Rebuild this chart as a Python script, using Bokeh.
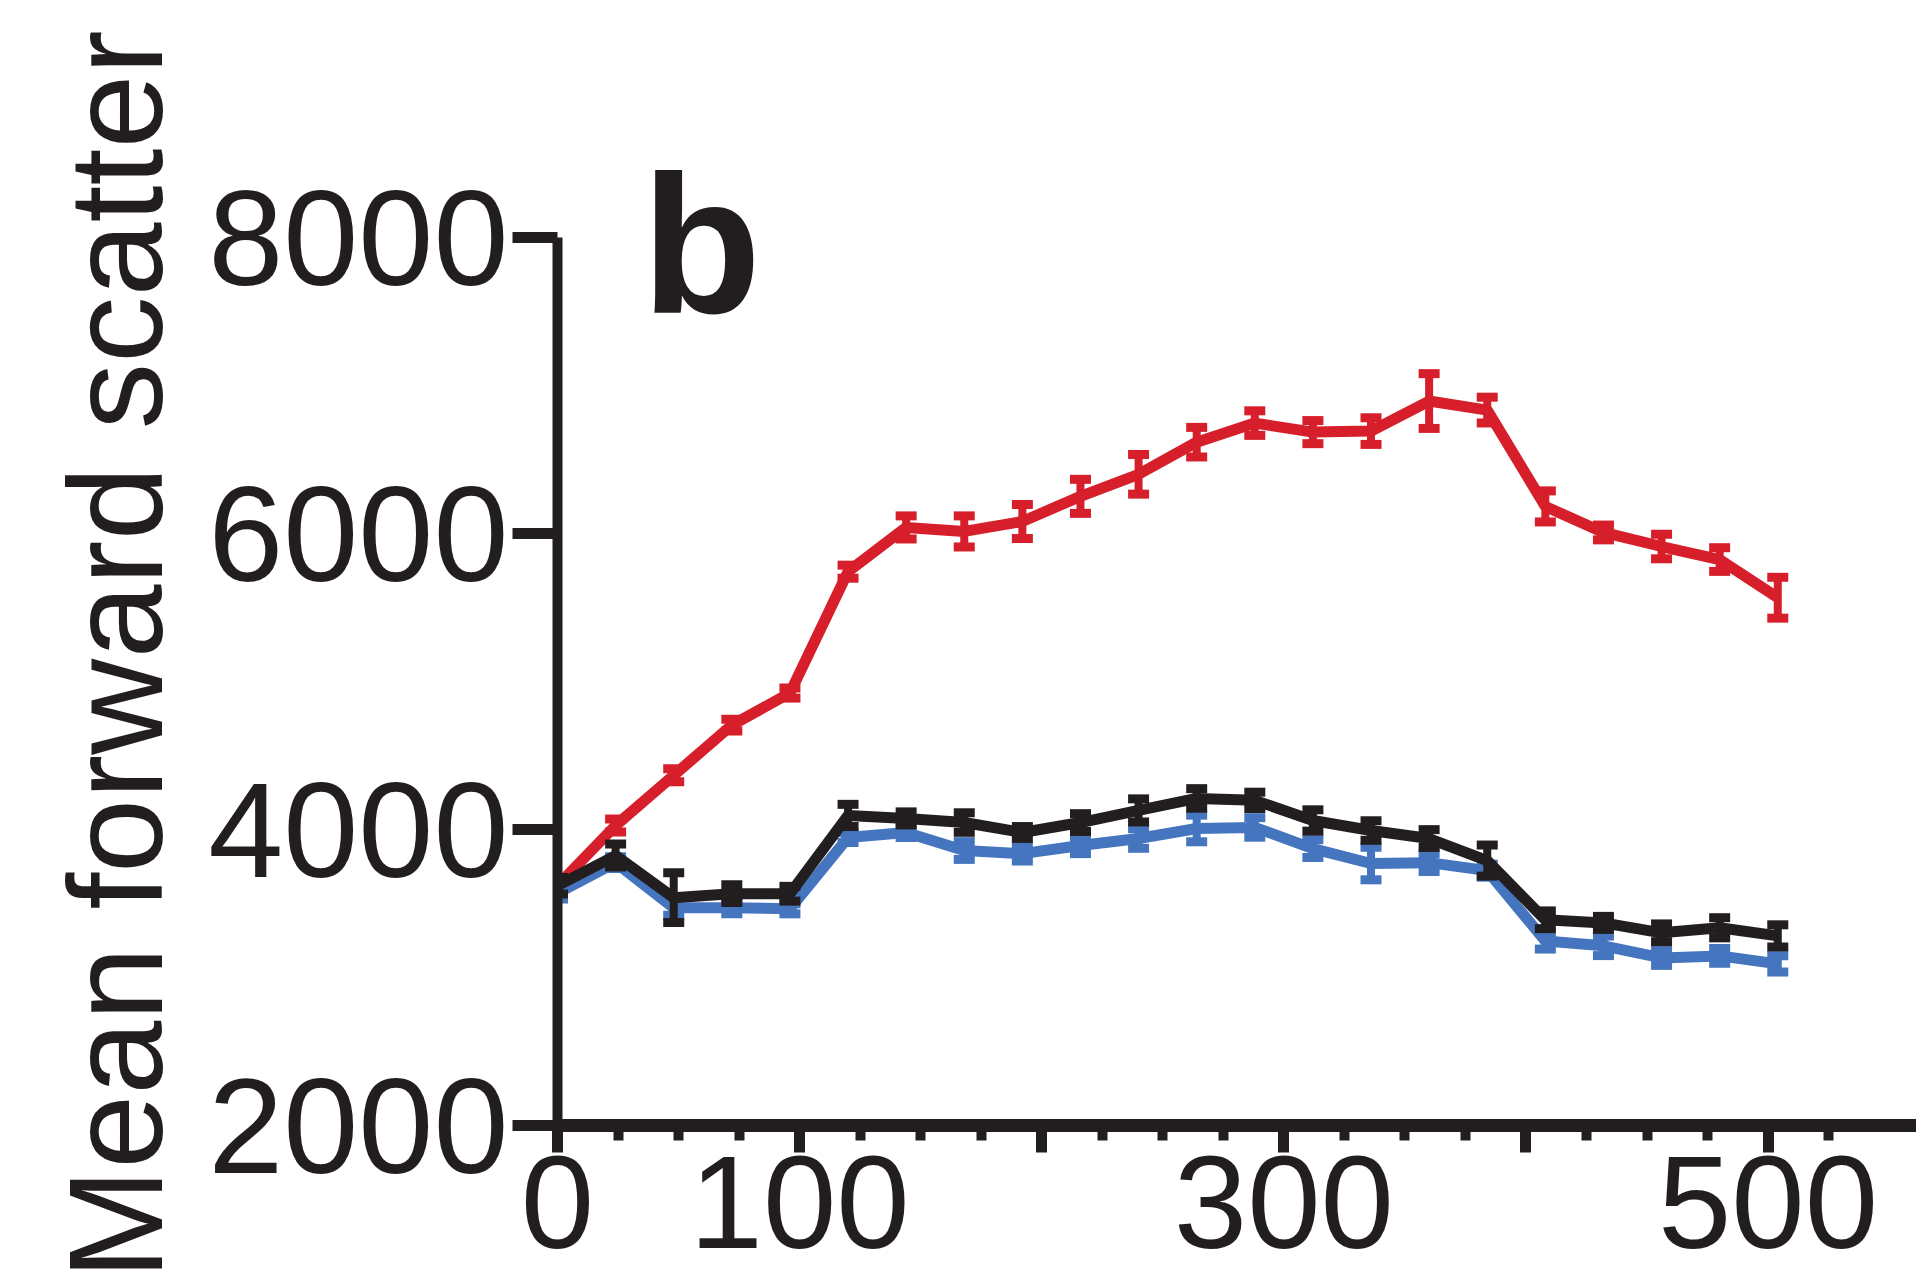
from bokeh.plotting import figure
from bokeh.models import FixedTicker, ColumnDataSource, Label, Title, Range1d
from bokeh.embed import file_html
from bokeh.resources import INLINE

# ---- data ----
hours = [0, 24, 48, 72, 96, 120, 144, 168, 192, 216, 240, 264, 288, 312, 336, 360, 384, 408, 432, 456, 480, 504]
red_mean = [3620, 4027, 4366, 4705, 4922, 5742, 6041, 6014, 6081, 6251, 6400, 6617, 6746, 6685, 6692, 6895, 6834, 6183, 6007, 5912, 5824, 5566]
red_err = [30, 44, 44, 40, 34, 44, 78, 105, 115, 115, 134, 100, 83, 78, 90, 185, 87, 105, 50, 83, 80, 138]
black_mean = [3620, 3824, 3539, 3566, 3566, 4095, 4075, 4047, 3980, 4047, 4129, 4210, 4197, 4061, 3993, 3939, 3790, 3390, 3369, 3302, 3336, 3281]
black_err = [55, 78, 168, 60, 50, 75, 44, 66, 40, 60, 78, 66, 55, 72, 66, 60, 105, 60, 44, 60, 68, 75]
blue_mean = [3570, 3776, 3471, 3471, 3464, 3946, 3980, 3858, 3837, 3892, 3939, 4007, 4014, 3871, 3770, 3776, 3722, 3247, 3214, 3132, 3146, 3092]
blue_err = [40, 40, 50, 40, 34, 34, 34, 60, 50, 55, 66, 90, 66, 60, 110, 60, 44, 55, 66, 50, 50, 55]

x_major_ticks = [0, 100, 200, 300, 400, 500]
x_minor_ticks = [25, 50, 75, 125, 150, 175, 225, 250, 275, 325, 350, 375, 425, 450, 475, 525]
x_tick_text = {0: "0", 100: "100", 200: "", 300: "300", 400: "", 500: "500"}
y_ticks = [2000, 4000, 6000, 8000]
y_label = "Mean forward scatter"
panel_label = "b"

RED = "#D71F2B"
BLUE = "#4675BF"
BLACK = "#221E1F"
FONT = "Liberation Sans"

# ---- layout geometry ----
W, H = 1916, 1279
LEFT = 557            # y-axis position
AXIS_TOP = 237        # pixel row of the top of the y axis (8000)
FRAME_TOP = 162       # frame extends above the axis so the panel letter is not clipped
AXIS_BOTTOM = 1125    # x-axis position (2000)
X_END = 561.3
y_lo, y_hi = y_ticks[0], y_ticks[-1]
px_per_y = (AXIS_BOTTOM - AXIS_TOP) / (y_hi - y_lo)
Y_END = y_hi + (AXIS_TOP - FRAME_TOP) / px_per_y

p = figure(width=W, height=H, x_range=Range1d(0, X_END), y_range=Range1d(y_lo, Y_END),
           output_backend="svg", toolbar_location=None,
           min_border_left=LEFT, min_border_right=0, min_border_top=FRAME_TOP,
           min_border_bottom=H - AXIS_BOTTOM)
p.outline_line_color = None
p.xgrid.visible = False
p.ygrid.visible = False
p.background_fill_color = "white"
p.border_fill_color = "white"

# series: red, blue, black (black on top)
for mean, err, col in [(red_mean, red_err, RED), (blue_mean, blue_err, BLUE), (black_mean, black_err, BLACK)]:
    up = [m + e for m, e in zip(mean, err)]
    lo = [m - e for m, e in zip(mean, err)]
    src = ColumnDataSource(dict(x=hours, y=mean, up=up, lo=lo))
    p.segment(x0="x", y0="lo", x1="x", y1="up", source=src, line_color=col, line_width=8)
    p.scatter(x="x", y="up", source=src, marker="dash", size=21, line_width=9, line_color=col, line_cap="butt")
    p.scatter(x="x", y="lo", source=src, marker="dash", size=21, line_width=9, line_color=col, line_cap="butt")
    p.line(x="x", y="y", source=src, line_color=col, line_width=11)

# y axis
ya = p.yaxis[0]
ya.bounds = (y_lo, y_hi)
ya.ticker = FixedTicker(ticks=y_ticks, minor_ticks=[])
ya.axis_line_width = 10
ya.axis_line_color = BLACK
ya.major_tick_line_width = 11
ya.major_tick_line_color = BLACK
ya.major_tick_out = 45
ya.major_tick_in = 0
ya.minor_tick_out = 0
ya.minor_tick_in = 0
ya.major_label_standoff = 4
ya.major_label_text_font = FONT
ya.major_label_text_font_size = "135px"
ya.major_label_text_color = BLACK

p.add_layout(Title(text=y_label, align="left", offset=-(H - AXIS_BOTTOM), standoff=32,
                   text_font=FONT, text_font_size="133px", text_font_style="normal",
                   text_color=BLACK), "left")

# x axis
xa = p.xaxis[0]
xa.ticker = FixedTicker(ticks=x_major_ticks, minor_ticks=x_minor_ticks)
xa.axis_line_width = 13
xa.axis_line_color = BLACK
xa.major_tick_line_width = 11
xa.major_tick_line_color = BLACK
xa.minor_tick_line_width = 10
xa.minor_tick_line_color = BLACK
xa.major_tick_out = 27
xa.major_tick_in = 0
xa.minor_tick_out = 15
xa.minor_tick_in = 0
xa.major_label_overrides = x_tick_text
xa.major_label_text_font = FONT
xa.major_label_text_font_size = "132px"
xa.major_label_text_color = BLACK
xa.major_label_standoff = 4

p.add_layout(Label(x=34.7, y=7943, text=panel_label, text_font=FONT, text_font_size="196px",
                   text_font_style="bold", text_color=BLACK, text_baseline="alphabetic"))

open("out.html", "w").write(file_html(p, INLINE))
